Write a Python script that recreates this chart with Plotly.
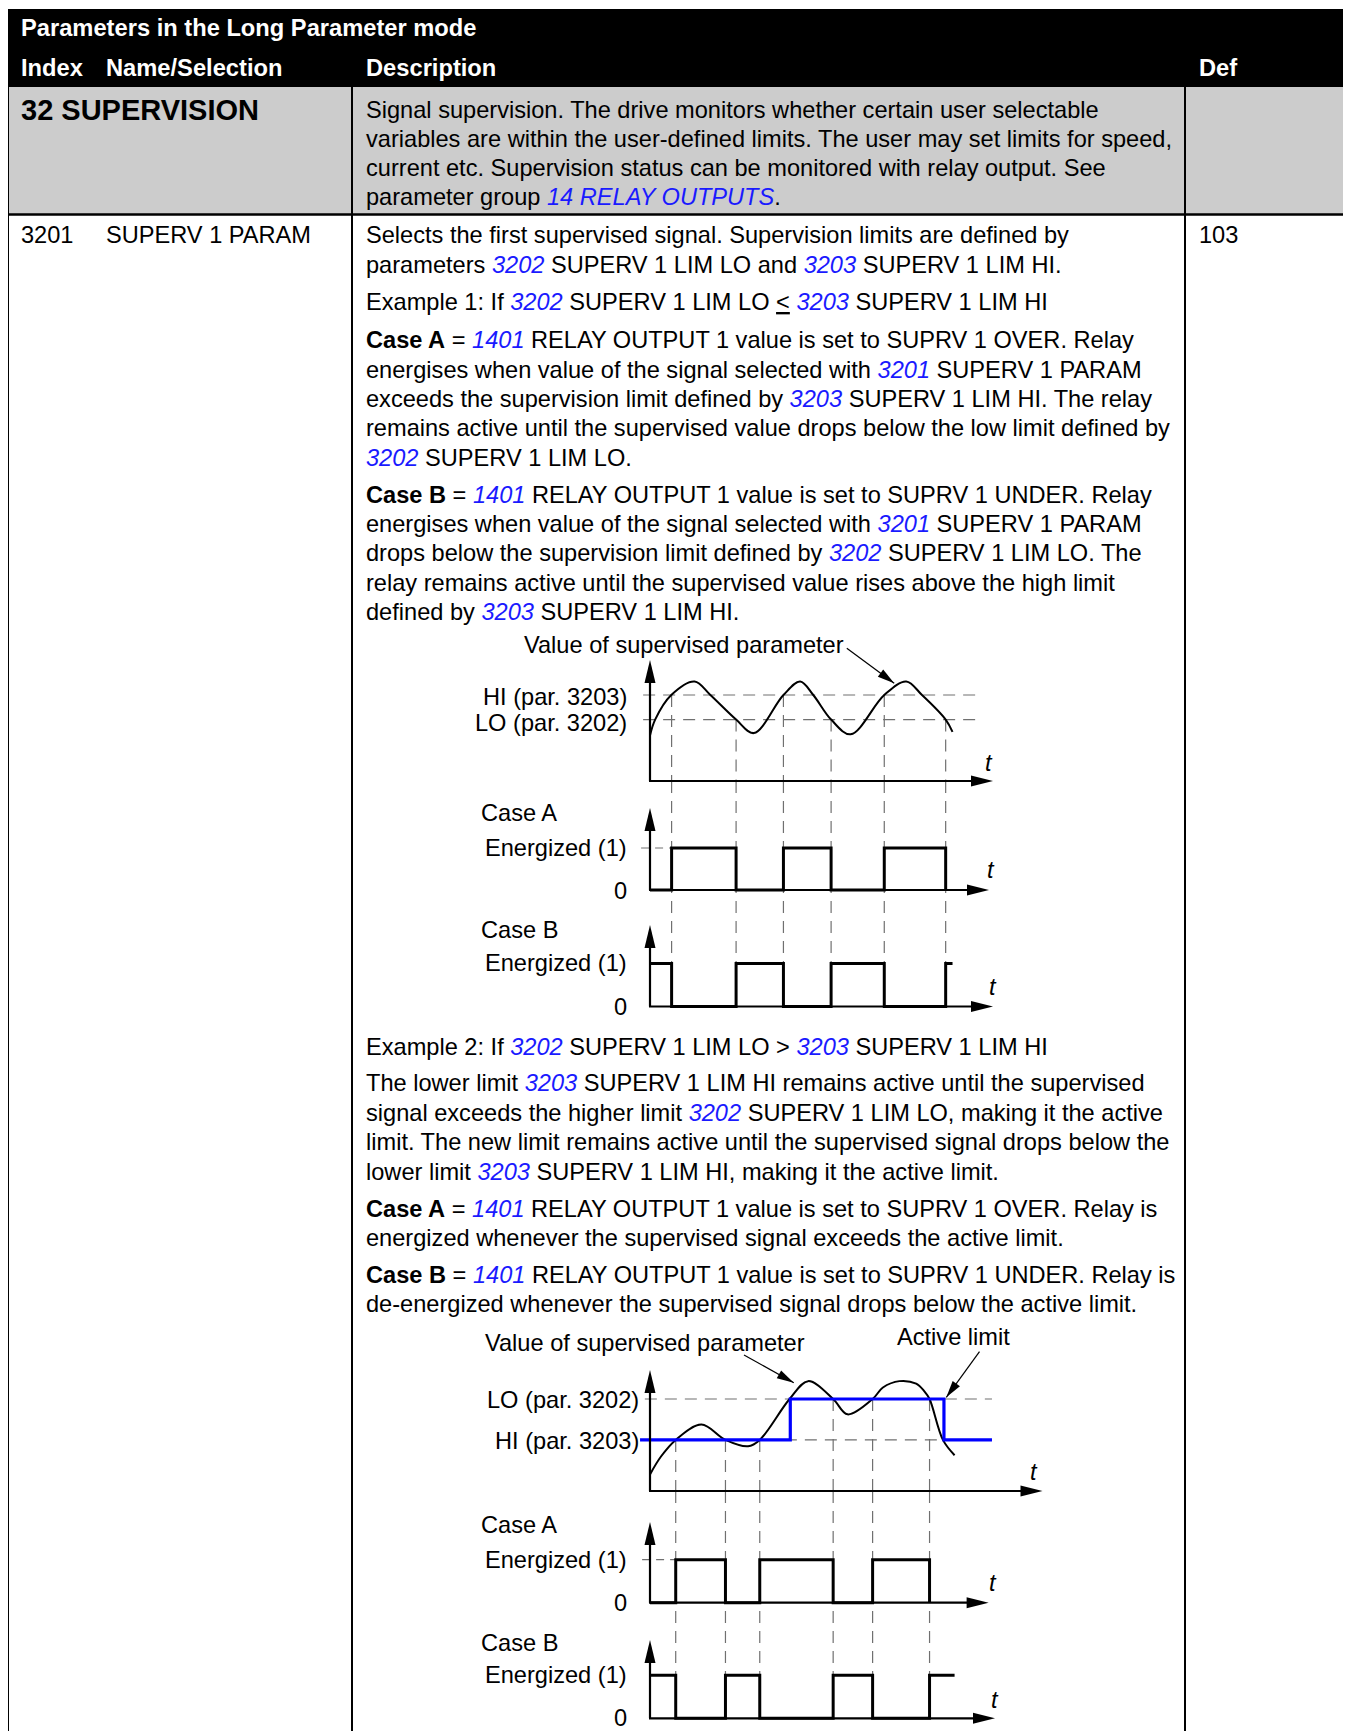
import re
import plotly.graph_objects as go

W, H = 1351, 1731
OFF = 8  # default page body margin in the browser; compensated so positions match page pixels

# ------------------------------------------------------------------ text content
HEADER_TITLE = "Parameters in the Long Parameter mode"
HEADER_COLUMNS = ["Index", "Name/Selection", "Description", "Def"]
GROUP_TITLE = "32 SUPERVISION"
GROUP_TEXT = [
    "Signal supervision. The drive monitors whether certain user selectable",
    "variables are within the user-defined limits. The user may set limits for speed,",
    "current etc. Supervision status can be monitored with relay output. See",
    "parameter group [14 RELAY OUTPUTS].",
]
PARAM_CELLS = ["3201", "SUPERV 1 PARAM", "103"]
PARAM_TEXT_1 = [
    "Selects the first supervised signal. Supervision limits are defined by",
    "parameters [3202] SUPERV 1 LIM LO and [3203] SUPERV 1 LIM HI.",
    "Example 1: If [3202] SUPERV 1 LIM LO <u>&lt;</u> [3203] SUPERV 1 LIM HI",
    "<b>Case A</b> = [1401] RELAY OUTPUT 1 value is set to SUPRV 1 OVER. Relay",
    "energises when value of the signal selected with [3201] SUPERV 1 PARAM",
    "exceeds the supervision limit defined by [3203] SUPERV 1 LIM HI. The relay",
    "remains active until the supervised value drops below the low limit defined by",
    "[3202] SUPERV 1 LIM LO.",
    "<b>Case B</b> = [1401] RELAY OUTPUT 1 value is set to SUPRV 1 UNDER. Relay",
    "energises when value of the signal selected with [3201] SUPERV 1 PARAM",
    "drops below the supervision limit defined by [3202] SUPERV 1 LIM LO. The",
    "relay remains active until the supervised value rises above the high limit",
    "defined by [3203] SUPERV 1 LIM HI.",
]
PARAM_TEXT_2 = [
    "Example 2: If [3202] SUPERV 1 LIM LO &gt; [3203] SUPERV 1 LIM HI",
    "The lower limit [3203] SUPERV 1 LIM HI remains active until the supervised",
    "signal exceeds the higher limit [3202] SUPERV 1 LIM LO, making it the active",
    "limit. The new limit remains active until the supervised signal drops below the",
    "lower limit [3203] SUPERV 1 LIM HI, making it the active limit.",
    "<b>Case A</b> = [1401] RELAY OUTPUT 1 value is set to SUPRV 1 OVER. Relay is",
    "energized whenever the supervised signal exceeds the active limit.",
    "<b>Case B</b> = [1401] RELAY OUTPUT 1 value is set to SUPRV 1 UNDER. Relay is",
    "de-energized whenever the supervised signal drops below the active limit.",
]
SIGNAL_TITLE = "Value of supervised parameter"
ACTIVE_TITLE = "Active limit"
CASE_LABELS = ["Case A", "Case B"]
ENERGIZED_LABEL = "Energized (1)"
ZERO_LABEL = "0"
TIME_LABEL = "t"

# ------------------------------------------------------------------ diagram 1 data (Example 1)
D1_LIMIT_LABELS = ["HI (par. 3203)", "LO (par. 3202)"]
D1_LIMIT_VALUES = [70, 50]
D1_SIGNAL_T = [0, 0.15, 0.62, 1.30, 1.76, 2.51, 3.03, 3.89, 4.38, 4.76,
               5.28, 5.85, 6.83, 7.47, 7.93, 8.62, 8.82]
D1_SIGNAL_V = [37, 50, 70, 81, 70, 50, 39, 70, 81, 70,
               50, 38, 70, 81, 70, 50, 40]
D1_SWITCH_T = [0.63, 2.51, 3.89, 5.28, 6.83, 8.62]
D1_SWITCH_LEVEL = [70, 50, 70, 50, 70, 50]
D1_CASE_A_T = [0, 0.63, 2.51, 3.89, 5.28, 6.83, 8.62]
D1_CASE_A_STATE = [0, 1, 0, 1, 0, 1, 0]
D1_CASE_B_T = [0, 0.63, 2.51, 3.89, 5.28, 6.83, 8.62, 8.82]
D1_CASE_B_STATE = [1, 0, 1, 0, 1, 0, 1, 1]

# ------------------------------------------------------------------ diagram 2 data (Example 2)
D2_LIMIT_LABELS = ["LO (par. 3202)", "HI (par. 3203)"]
D2_LIMIT_VALUES = [72, 40]
D2_SIGNAL_T = [0, 0.32, 0.75, 1.50, 2.20, 2.86, 3.20, 4.07, 4.61, 5.34, 5.76,
               6.49, 6.79, 7.27, 7.76, 8.00, 8.15, 8.54, 8.88]
D2_SIGNAL_V = [13, 27, 40, 52, 40, 35, 40, 72, 86, 72, 60,
               72, 81, 86, 84, 78, 72, 40, 28]
D2_ACTIVE_T = [-0.29, 4.09, 8.57, 9.97]
D2_ACTIVE_V = [40, 72, 40, 40]
D2_SWITCH_T = [0.75, 2.20, 3.20, 5.34, 6.49, 8.15]
D2_SWITCH_LEVEL = [40, 40, 40, 72, 72, 72]
D2_CASE_A_T = [0, 0.75, 2.20, 3.20, 5.34, 6.49, 8.15]
D2_CASE_A_STATE = [0, 1, 0, 1, 0, 1, 0]
D2_CASE_B_T = [0, 0.75, 2.20, 3.20, 5.34, 6.49, 8.15, 8.88]
D2_CASE_B_STATE = [1, 0, 1, 0, 1, 0, 1, 1]

# ------------------------------------------------------------------ styles / layout constants
FONT = "Liberation Sans, Arial, Helvetica, sans-serif"
FS = 23.6
FS_HEAD = 23.7
FS_GROUP = 29.0
LINK = "#1a1aff"
BLUE = "#0000ff"
GRAY_FILL = "#cccccc"
DASH_GRAY = "#707070"
DASH = "12px,8px"

COL_X = [8, 352, 1185, 1346]
HEADER_Y = [9, 87]
GROUP_BOTTOM = 214.5
TEXT_X = [19, 104, 364, 1197]
TITLE_Y, COLS_Y = 28, 68
GROUP_Y = [110, 139, 168, 197]
PARAM_Y1 = [235, 265, 302, 340, 370, 399, 428, 458, 495, 524, 553, 583, 612]
PARAM_Y2 = [1047, 1083, 1113, 1142, 1172, 1209, 1238, 1275, 1304]

ORIGIN_X = 650          # page pixel of t = 0
KX = 34.3               # pixels per time unit
T_RANGE = [-0.6, 11.6]

# panels: value-0 pixel, pixels per unit, value range, y-arrow tip, t-arrow tip, t label
PANELS = {
    "y2": dict(p0=781.0, ky=1.2286, vr=[-3, 100], tip=660, ttip=993, tlab=(989, 763)),
    "y3": dict(p0=890.0, ky=42.0, vr=[-0.25, 2.1], tip=808, ttip=989, tlab=(991, 870)),
    "y4": dict(p0=1006.5, ky=43.0, vr=[-0.25, 2.1], tip=925, ttip=993, tlab=(993, 987)),
    "y5": dict(p0=1491.0, ky=1.2775, vr=[-3, 100], tip=1370, ttip=1042.5, tlab=(1034, 1472)),
    "y6": dict(p0=1602.7, ky=43.0, vr=[-0.25, 2.1], tip=1522, ttip=988.6, tlab=(993, 1583)),
    "y7": dict(p0=1718.3, ky=43.0, vr=[-0.25, 2.1], tip=1640, ttip=995, tlab=(995, 1700)),
}


def linkify(s):
    return re.sub(r"\[([^\]]+)\]",
                  lambda m: f'<span style="color:{LINK}"><i>{m.group(1)}</i></span>', s)


annotations = []
shapes = []


def text(x, y, s, size=FS, xanchor="left", color="black", bold=False, italic=False):
    s = linkify(s)
    if bold:
        s = f"<b>{s}</b>"
    if italic:
        s = f"<i>{s}</i>"
    annotations.append(dict(x=x, y=y, xref="x", yref="y", text=s, showarrow=False,
                            xanchor=xanchor, yanchor="middle", align="left",
                            font=dict(family=FONT, size=size, color=color)))


def line(x0, y0, x1, y1, width=2.0, color="black", dash="solid",
         xref="x", yref="y", layer="above"):
    shapes.append(dict(type="line", x0=x0, y0=y0, x1=x1, y1=y1, xref=xref, yref=yref,
                       layer=layer, line=dict(width=width, color=color, dash=dash)))


def tri(tx, ty, fx, fy, L, wd):
    dx, dy = tx - fx, ty - fy
    n = (dx * dx + dy * dy) ** 0.5
    ux, uy = dx / n, dy / n
    bx, by = tx - ux * L, ty - uy * L
    px, py = -uy * wd / 2, ux * wd / 2
    shapes.append(dict(type="path", xref="x", yref="y", layer="above",
                       path=f"M{tx},{ty} L{bx + px},{by + py} L{bx - px},{by - py} Z",
                       fillcolor="black", line=dict(width=0, color="black")))


def pointer(fx, fy, tx, ty):
    line(fx, fy, tx, ty, width=1.2)
    tri(tx, ty, fx, fy, 17, 9)


# ------------------------------------------------------------------ table
shapes.append(dict(type="rect", xref="x", yref="y", x0=7, x1=1347, y0=HEADER_Y[0], y1=HEADER_Y[1],
                   fillcolor="black", line=dict(width=0), layer="below"))
shapes.append(dict(type="rect", xref="x", yref="y", x0=COL_X[0], x1=COL_X[3], y0=HEADER_Y[1],
                   y1=GROUP_BOTTOM, fillcolor=GRAY_FILL, line=dict(width=0), layer="below"))
line(COL_X[0], HEADER_Y[0], COL_X[0], H + OFF, width=2)
line(COL_X[3], HEADER_Y[0], COL_X[3], H + OFF, width=2)
line(COL_X[1], HEADER_Y[1], COL_X[1], H + OFF, width=2)
line(COL_X[2], HEADER_Y[1], COL_X[2], H + OFF, width=2)
line(COL_X[0], GROUP_BOTTOM, COL_X[3], GROUP_BOTTOM, width=2.5)

text(TEXT_X[0], TITLE_Y, HEADER_TITLE, size=FS_HEAD, color="white", bold=True)
for xx, s in zip(TEXT_X, HEADER_COLUMNS):
    text(xx, COLS_Y, s, size=FS_HEAD, color="white", bold=True)
text(TEXT_X[0], GROUP_Y[0], GROUP_TITLE, size=FS_GROUP, bold=True)
for yy, s in zip(GROUP_Y, GROUP_TEXT):
    text(TEXT_X[2], yy, s)
text(TEXT_X[0], PARAM_Y1[0], PARAM_CELLS[0])
text(TEXT_X[1], PARAM_Y1[0], PARAM_CELLS[1])
text(TEXT_X[3], PARAM_Y1[0], PARAM_CELLS[2])
for yy, s in zip(PARAM_Y1, PARAM_TEXT_1):
    text(TEXT_X[2], yy, s)
for yy, s in zip(PARAM_Y2, PARAM_TEXT_2):
    text(TEXT_X[2], yy, s)

# ------------------------------------------------------------------ axes
layout_axes = dict(
    xaxis=dict(range=[OFF, W + OFF], domain=[0, 1], visible=False, fixedrange=True, anchor="y"),
    yaxis=dict(range=[H + OFF, OFF], domain=[0, 1], visible=False, fixedrange=True, anchor="x"),
)
xdom = [(ORIGIN_X - OFF + T_RANGE[0] * KX) / W, (ORIGIN_X - OFF + T_RANGE[1] * KX) / W]
layout_axes["xaxis2"] = dict(range=T_RANGE, domain=xdom, visible=False, anchor="y4", fixedrange=True)
layout_axes["xaxis3"] = dict(range=T_RANGE, domain=xdom, visible=False, anchor="y7", fixedrange=True)
for yid, p in PANELS.items():
    top = p["p0"] - p["vr"][1] * p["ky"] - OFF
    bot = p["p0"] - p["vr"][0] * p["ky"] - OFF
    layout_axes["yaxis" + yid[1:]] = dict(
        range=p["vr"], domain=[1 - bot / H, 1 - top / H], visible=False, fixedrange=True,
        anchor="x2" if yid in ("y2", "y3", "y4") else "x3")

# axis lines with arrowheads, t labels
for yid, p in PANELS.items():
    line(ORIGIN_X, p["p0"], ORIGIN_X, p["tip"] + 18, width=2.2)
    tri(ORIGIN_X, p["tip"], ORIGIN_X, p["p0"], 23, 11)
    line(ORIGIN_X - 1, p["p0"], p["ttip"] - 18, p["p0"], width=2.2)
    tri(p["ttip"], p["p0"], ORIGIN_X, p["p0"], 22, 11)
    text(p["tlab"][0], p["tlab"][1], TIME_LABEL, size=FS, xanchor="center", italic=True)

# ------------------------------------------------------------------ diagram 1 decorations
for lab, val, ly in zip(D1_LIMIT_LABELS, D1_LIMIT_VALUES, [697, 723]):
    line(-0.2, val, 9.65, val, width=1.2, color=DASH_GRAY, dash=DASH, xref="x2", yref="y2", layer="below")
    text(629, ly, lab, xanchor="right")
for t, lv in zip(D1_SWITCH_T, D1_SWITCH_LEVEL):
    line(t, lv, t, 0, width=1.2, color=DASH_GRAY, dash=DASH, xref="x2", yref="y2", layer="below")
    line(t, PANELS["y2"]["p0"], t, PANELS["y4"]["p0"], width=1.2, color=DASH_GRAY, dash=DASH,
         xref="x2", yref="y", layer="below")
line(-0.26, 1, D1_SWITCH_T[0], 1, width=1.2, color=DASH_GRAY, dash="8px,6px", xref="x2", yref="y3", layer="below")
text(683.7, 645, SIGNAL_TITLE, xanchor="center")
pointer(846.8, 648.3, 894.2, 683.3)
text(479, 813, CASE_LABELS[0])
text(629, 848, ENERGIZED_LABEL, xanchor="right")
text(629, 890.5, ZERO_LABEL, xanchor="right")
text(479, 930, CASE_LABELS[1])
text(629, 963, ENERGIZED_LABEL, xanchor="right")
text(629, 1006.5, ZERO_LABEL, xanchor="right")

# ------------------------------------------------------------------ diagram 2 decorations
for lab, val, ly in zip(D2_LIMIT_LABELS, D2_LIMIT_VALUES, [1400, 1441]):
    line(-0.15, val, 9.97, val, width=1.2, color=DASH_GRAY, dash=DASH, xref="x3", yref="y5", layer="below")
    text(641, ly, lab, xanchor="right")
for t, lv in zip(D2_SWITCH_T, D2_SWITCH_LEVEL):
    line(t, lv, t, 0, width=1.2, color=DASH_GRAY, dash=DASH, xref="x3", yref="y5", layer="below")
    line(t, PANELS["y5"]["p0"], t, PANELS["y7"]["p0"], width=1.2, color=DASH_GRAY, dash=DASH,
         xref="x3", yref="y", layer="below")
line(-0.23, 1, D2_SWITCH_T[0], 1, width=1.2, color=DASH_GRAY, dash="8px,6px", xref="x3", yref="y6", layer="below")
text(644.5, 1343.3, SIGNAL_TITLE, xanchor="center")
text(953.7, 1336.7, ACTIVE_TITLE, xanchor="center")
pointer(744, 1355, 793.8, 1382.7)
pointer(979.5, 1351.7, 946.3, 1397.3)
text(479, 1525, CASE_LABELS[0])
text(629, 1560, ENERGIZED_LABEL, xanchor="right")
text(629, 1603, ZERO_LABEL, xanchor="right")
text(479, 1643.3, CASE_LABELS[1])
text(629, 1675, ENERGIZED_LABEL, xanchor="right")
text(629, 1718, ZERO_LABEL, xanchor="right")

# ------------------------------------------------------------------ traces
fig = go.Figure()
fig.add_trace(go.Scatter(x=[OFF], y=[OFF], mode="markers", marker=dict(opacity=0),
                         xaxis="x", yaxis="y", hoverinfo="skip"))


def curve(x, y, xa, ya, color="black", width=2.0, shape="spline"):
    kw = dict(color=color, width=width, shape=shape)
    if shape == "spline":
        kw["smoothing"] = 1.0
    fig.add_trace(go.Scatter(x=x, y=y, mode="lines", line=kw, xaxis=xa, yaxis=ya,
                             hoverinfo="skip", cliponaxis=False))


curve(D1_SIGNAL_T, D1_SIGNAL_V, "x2", "y2")
curve(D1_CASE_A_T, D1_CASE_A_STATE, "x2", "y3", width=3, shape="hv")
curve(D1_CASE_B_T, D1_CASE_B_STATE, "x2", "y4", width=3, shape="hv")
curve(D2_SIGNAL_T, D2_SIGNAL_V, "x3", "y5")
curve(D2_ACTIVE_T, D2_ACTIVE_V, "x3", "y5", color=BLUE, width=3.2, shape="hv")
curve(D2_CASE_A_T, D2_CASE_A_STATE, "x3", "y6", width=3, shape="hv")
curve(D2_CASE_B_T, D2_CASE_B_STATE, "x3", "y7", width=3, shape="hv")

fig.update_layout(
    width=W, height=H, autosize=False,
    margin=dict(l=0, r=0, t=0, b=0, pad=0),
    paper_bgcolor="white", plot_bgcolor="rgba(0,0,0,0)",
    showlegend=False, shapes=shapes, annotations=annotations,
    hovermode=False, dragmode=False,
    **layout_axes,
)
fig.write_html("out.html", config=dict(displayModeBar=False, staticPlot=True))
